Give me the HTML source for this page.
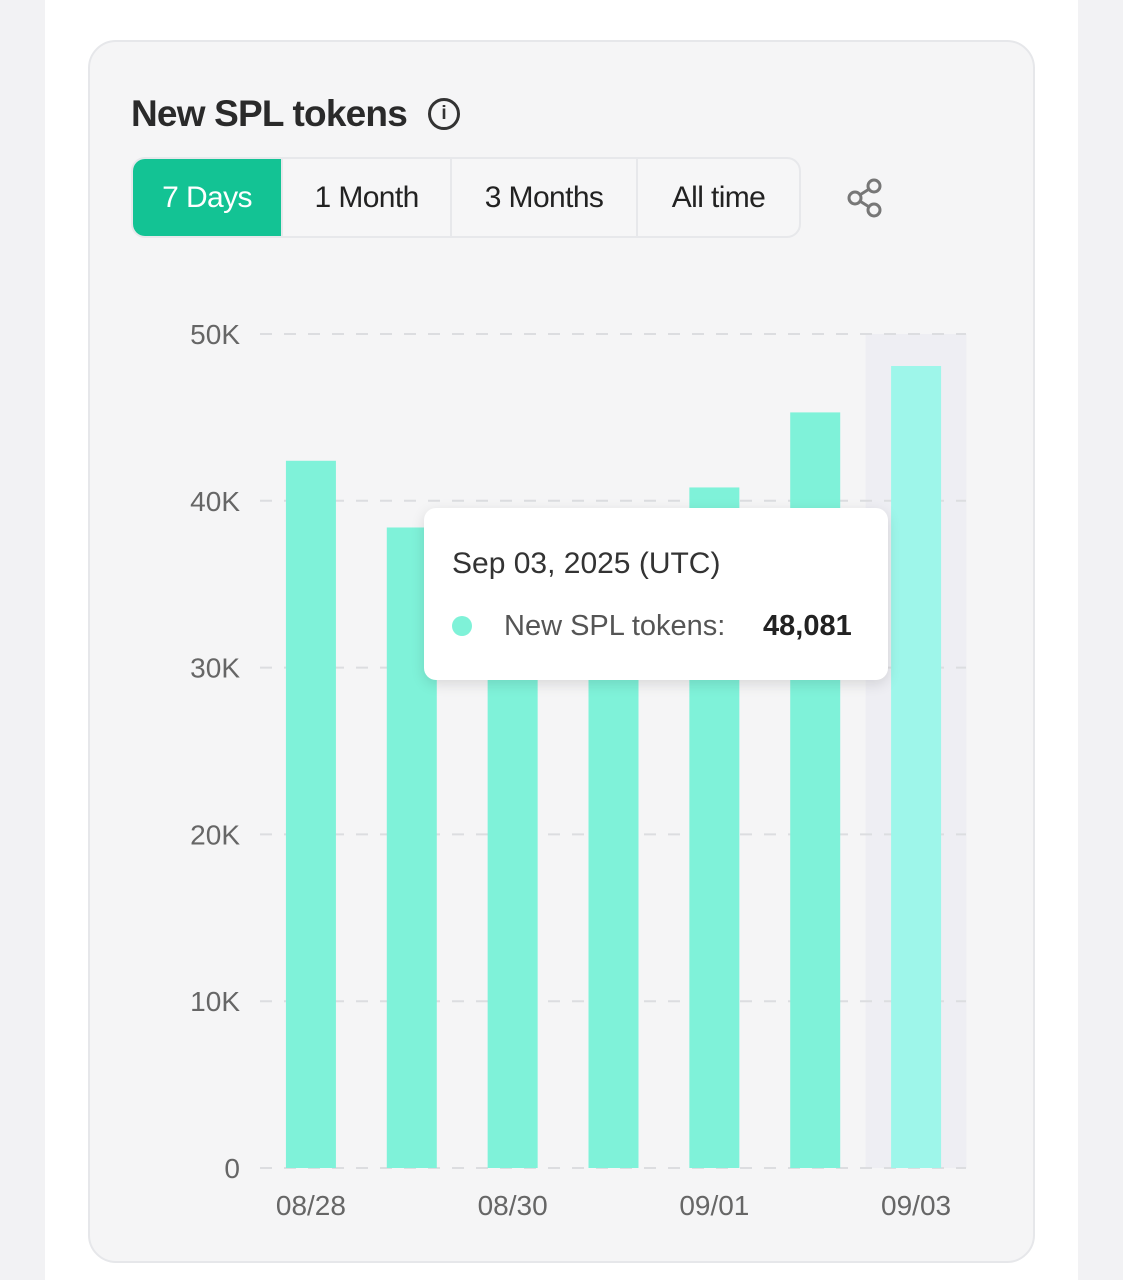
<!DOCTYPE html>
<html><head><meta charset="utf-8"><style>
html,body{margin:0;padding:0;width:1123px;height:1280px;overflow:hidden;background:#f2f2f4;font-family:"Liberation Sans",sans-serif}
#col{position:absolute;left:45px;top:0;width:1033px;height:1280px;background:#fff}
#card{position:absolute;left:88px;top:40px;width:947px;height:1223px;background:#f5f5f6;border:2px solid #e6e7ea;border-radius:28px;box-sizing:border-box}
#title{position:absolute;left:131px;top:93px;font-size:37px;font-weight:bold;color:#2a2a2a;letter-spacing:-0.8px}
#info{position:absolute;left:428px;top:98px;width:32px;height:32px;border:3px solid #333;border-radius:50%;box-sizing:border-box;text-align:center;font-size:19px;font-weight:bold;line-height:26px;color:#333}
#tabs{position:absolute;left:131px;top:157px;width:670px;height:81px;border:2px solid #e7e8eb;border-radius:14px;box-sizing:border-box;display:flex;overflow:hidden;background:#f6f6f7}
.tab{height:100%;display:flex;align-items:center;justify-content:center;font-size:30px;color:#222;border-right:2px solid #e7e8eb;box-sizing:border-box;letter-spacing:-0.6px}
.tab.on{background:#13c394;color:#fff}
svg{position:absolute;left:0;top:0}
#tip{position:absolute;left:424px;top:508px;width:464px;height:172px;background:#fff;border-radius:12px;box-shadow:0 4px 14px rgba(0,0,0,0.12)}
</style></head><body>
<div id="col"></div>
<div id="card"></div>
<div id="title">New SPL tokens</div>
<div id="info">i</div>
<div id="tabs">
<div class="tab on" style="width:151px">7 Days</div>
<div class="tab" style="width:170px">1 Month</div>
<div class="tab" style="width:187px">3 Months</div>
<div class="tab" style="width:162px;border-right:none">All time</div>
</div>
<svg width="1123" height="1280" id="chart">
<g stroke="#777" stroke-width="3" fill="none">
<line x1="855" y1="198" x2="874" y2="186"/><line x1="855" y1="198" x2="874" y2="210"/>
<circle cx="855" cy="198" r="6" fill="#f5f5f6"/><circle cx="874" cy="186" r="6" fill="#f5f5f6"/><circle cx="874" cy="210" r="6" fill="#f5f5f6"/>
</g>
</svg>
<div id="tip">
<div style="position:absolute;left:28px;top:39px;font-size:30px;color:#333">Sep 03, 2025 (UTC)</div>
<div style="position:absolute;left:28px;top:108px;width:20px;height:20px;border-radius:50%;background:#7ff2d8"></div>
<div style="position:absolute;left:80px;top:102px;font-size:29px;color:#555">New SPL tokens:</div>
<div style="position:absolute;left:339px;top:102px;font-size:29px;font-weight:bold;color:#222">48,081</div>
</div>
<script>
const categories=["08/28","08/29","08/30","08/31","09/01","09/02","09/03"];
const values=[42400,38400,39000,38500,40800,45300,48081];
const yTicks=[0,10000,20000,30000,40000,50000];
const yTickLabels=["0","10K","20K","30K","40K","50K"];
const xLabelIdx=[0,2,4,6];
const activeIndex=6;
const NS="http://www.w3.org/2000/svg";
const svg=document.getElementById('chart');
const x0=260,x1=966,y0=1168,y1=334,yMax=50000;
const band=(x1-x0)/categories.length;
function xs(i){return x0+band*(i+0.5)+0.5;}
function ys(v){return y0-(v/yMax)*(y0-y1);}
function add(t,a){const e=document.createElementNS(NS,t);for(const k in a)e.setAttribute(k,a[k]);svg.appendChild(e);return e;}
const hl=add('rect',{x:xs(activeIndex)-band/2,y:y1,width:band,height:y0-y1,fill:'#eeeef3'});


yTicks.forEach((v,i)=>{
 const l=add('line',{x1:x0,x2:x1,y1:ys(v),y2:ys(v),stroke:'#dcdde0','stroke-width':2,'stroke-dasharray':'12 12'});
 
 
 const t=add('text',{x:240,y:ys(v)+10,'text-anchor':'end','font-size':28,fill:'#666','font-family':'Liberation Sans, sans-serif'});
 t.textContent=yTickLabels[i];
 
 
});
values.forEach((v,i)=>{
 const r=add('rect',{x:xs(i)-25,y:ys(v),width:50,height:y0-ys(v),fill:i===activeIndex?'#9ef6ea':'#7ff2d9'});
 
 
});
xLabelIdx.forEach(i=>{
 const t=add('text',{x:xs(i),y:1215,'text-anchor':'middle','font-size':28,fill:'#666','font-family':'Liberation Sans, sans-serif'});
 t.textContent=categories[i];
 
 
});
</script>
</body></html>
